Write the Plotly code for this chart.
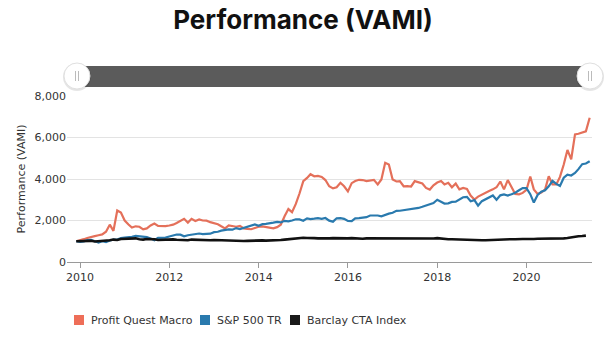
import pandas as pd
import plotly.graph_objects as go

# ---- data (monthly VAMI, Dec 2009 = 1000) ----
dates = pd.date_range("2009-12-01", "2021-06-01", freq="MS")

profit_quest = [
    1000,
    1040, 1100, 1160, 1220, 1250, 1290, 1330, 1460, 1800, 1500, 2480, 2380,
    2000, 1810, 1660, 1720, 1700, 1570, 1620, 1760, 1850, 1740, 1730, 1730,
    1760, 1800, 1880, 1970, 2080, 1900, 2080, 1980, 2050, 2000, 1990, 1920,
    1880, 1820, 1720, 1620, 1760, 1720, 1700, 1740, 1620, 1600, 1580, 1640,
    1700, 1720, 1680, 1640, 1620, 1680, 1800, 2200, 2550, 2400, 2800, 3300,
    3900, 4050, 4230, 4130, 4150, 4100, 3950, 3650, 3550, 3600, 3820, 3650,
    3400, 3800, 3900, 3960, 3950, 3900, 3920, 3960, 3740, 3980, 4780, 4700,
    3980, 3880, 3900, 3650, 3660, 3640, 3900, 3850, 3780, 3570, 3490, 3700,
    3830, 3900, 3740, 3820, 3600, 3780, 3500, 3570, 3520, 3200, 3010, 3150,
    3250, 3330, 3420, 3500, 3600, 3880, 3500, 3950, 3600, 3280, 3260, 3330,
    3480, 4120, 3500, 3280, 3350, 3490, 4130, 3740, 3740, 4100, 4700, 5400,
    4950, 6150, 6180, 6250, 6300, 6950,
]

sp500_tr = [
    1000,
    964, 994, 1054, 1071, 985, 934, 999, 954, 1039, 1078, 1078, 1151,
    1178, 1218, 1218, 1255, 1241, 1220, 1196, 1131, 1052, 1167, 1165, 1177,
    1230, 1283, 1325, 1317, 1238, 1289, 1307, 1337, 1372, 1346, 1354, 1366,
    1437, 1457, 1512, 1541, 1576, 1556, 1635, 1588, 1637, 1712, 1764, 1808,
    1745, 1825, 1840, 1853, 1895, 1935, 1908, 1984, 1956, 2003, 2057, 2051,
    1990, 2103, 2070, 2090, 2117, 2077, 2121, 1993, 1944, 2107, 2113, 2079,
    1975, 1973, 2107, 2116, 2154, 2160, 2240, 2242, 2242, 2202, 2283, 2329,
    2373, 2468, 2470, 2495, 2530, 2545, 2599, 2606, 2661, 2722, 2807, 2837,
    2999, 2888, 2816, 2827, 2895, 2912, 3020, 3120, 3138, 2925, 2983, 2715,
    2932, 3026, 3084, 3207, 3002, 3212, 3257, 3205, 3266, 3338, 3458, 3562,
    3562, 3270, 2864, 3231, 3386, 3454, 3647, 3910, 3761, 3660, 4059, 4213,
    4171, 4288, 4477, 4714, 4747, 4856,
]

barclay_cta = [
    1000,
    1010, 1000, 1030, 1020, 990, 1000, 1010, 1040, 1050, 1080, 1060, 1110,
    1120, 1130, 1110, 1140, 1100, 1080, 1110, 1120, 1100, 1060, 1070, 1070,
    1080, 1090, 1070, 1060, 1080, 1050, 1080, 1070, 1060, 1040, 1050, 1050,
    1060, 1050, 1050, 1060, 1040, 1010, 1020, 1020, 1010, 1020, 1030, 1030,
    1040, 1040, 1030, 1030, 1040, 1050, 1060, 1080, 1100, 1120, 1150, 1160,
    1170, 1160, 1170, 1150, 1140, 1130, 1150, 1140, 1150, 1140, 1140, 1130,
    1140, 1150, 1130, 1120, 1120, 1140, 1140, 1130, 1130, 1120, 1110, 1120,
    1120, 1130, 1120, 1120, 1120, 1110, 1120, 1130, 1120, 1130, 1130, 1130,
    1150, 1120, 1110, 1100, 1100, 1090, 1090, 1080, 1070, 1050, 1040, 1050,
    1050, 1050, 1060, 1070, 1080, 1090, 1110, 1120, 1100, 1100, 1090, 1110,
    1110, 1100, 1110, 1120, 1120, 1120, 1130, 1130, 1130, 1120, 1140, 1160,
    1200, 1230, 1240, 1250, 1270,
]

series_names = ["Profit Quest Macro", "S&P 500 TR", "Barclay CTA Index"]
tick_years = ["2010", "2012", "2014", "2016", "2018", "2020"]
y_ticks = [0, 2000, 4000, 6000, 8000]

# ---- styling ----
colors = ["#e4705a", "#2a7aae", "#111111"]
legend_colors = ["#ee6e58", "#2a7aae", "#1a1a1a"]
legend_x = [74, 200, 290]          # left edge of each legend swatch (px)
W, H = 606, 352
L, R, T, B = 67, 14, 96, 90
PW, PH = W - L - R, H - T - B


def px(x):
    return (x - L) / PW


def py(y):
    return (H - B - y) / PH


fig = go.Figure()
series = [profit_quest, sp500_tr, barclay_cta]
widths = [2.2, 2.2, 2.6]
for name, vals, c, w in zip(series_names, series, colors, widths):
    fig.add_trace(go.Scatter(
        x=dates[:len(vals)], y=vals, mode="lines", name=name,
        line=dict(color=c, width=w), showlegend=False,
        hovertemplate="%{y:,.0f}<extra>" + name + "</extra>",
    ))

shapes = []
annotations = []
# scrollbar
shapes.append(dict(type="rect", xref="paper", yref="paper",
                   x0=px(76), x1=px(590), y0=py(87), y1=py(66),
                   fillcolor="#5b5b5b", line=dict(width=0), layer="above"))
for cx in (77, 590):
    cy, r = 76, 13
    shapes.append(dict(type="circle", xref="paper", yref="paper",
                       x0=px(cx - r - 1), x1=px(cx + r + 1),
                       y0=py(cy + r + 2), y1=py(cy - r),
                       fillcolor="rgba(0,0,0,0.10)", line=dict(width=0),
                       layer="above"))
    shapes.append(dict(type="circle", xref="paper", yref="paper",
                       x0=px(cx - r), x1=px(cx + r),
                       y0=py(cy + r), y1=py(cy - r),
                       fillcolor="#ffffff", line=dict(color="#e0e0e0", width=1),
                       layer="above"))
    for dx in (-1.5, 1.5):
        shapes.append(dict(type="line", xref="paper", yref="paper",
                           x0=px(cx + dx), x1=px(cx + dx),
                           y0=py(cy + 5), y1=py(cy - 5),
                           line=dict(color="#bbbbbb", width=1), layer="above"))

# legend (swatches + labels)
for name, c, lx in zip(series_names, legend_colors, legend_x):
    shapes.append(dict(type="rect", xref="paper", yref="paper",
                       x0=px(lx), x1=px(lx + 10), y0=py(325), y1=py(315),
                       fillcolor=c, line=dict(width=0)))
    annotations.append(dict(text=name, xref="paper", yref="paper",
                            x=px(lx + 15), y=py(320), xanchor="left",
                            yanchor="middle", showarrow=False,
                            font=dict(size=11, color="#333333")))

fig.update_layout(
    width=W, height=H,
    margin=dict(l=L, r=R, t=T, b=B),
    paper_bgcolor="white", plot_bgcolor="white",
    font=dict(family="DejaVu Sans", size=11, color="#333333"),
    title=dict(text="<b>Performance (VAMI)</b>", x=0.5, xanchor="center",
               y=1 - 20 / H, yanchor="middle",
               font=dict(family="Inter", size=26, color="#111111")),
    xaxis=dict(
        type="date",
        range=["2009-09-16", "2021-06-20"],
        tickvals=[f"{y}-01-01" for y in tick_years],
        ticktext=tick_years,
        showgrid=False, showline=True, linecolor="#9a9a9a", linewidth=1,
        ticks="outside", ticklen=5, tickcolor="#9a9a9a",
        tickfont=dict(size=11, color="#333333"),
        zeroline=False,
    ),
    yaxis=dict(
        range=[0, 8000], tickvals=y_ticks, tickformat=",",
        showgrid=True, gridcolor="#e3e3e3", gridwidth=1,
        showline=False, zeroline=False, ticks="",
        tickfont=dict(size=11, color="#333333"),
        title=dict(text="Performance (VAMI)", font=dict(size=11, color="#333333"),
                   standoff=6),
    ),
    shapes=shapes,
    annotations=annotations,
    showlegend=False,
)

fig.write_html("out.html")
